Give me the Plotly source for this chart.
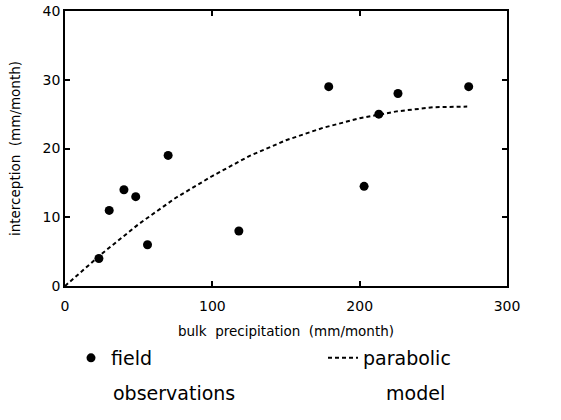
import plotly.graph_objects as go

# field observations (bulk precipitation, interception), mm/month
obs_x = [23, 30, 40, 48, 56, 70, 118, 179, 203, 213, 226, 274]
obs_y = [4, 11, 14, 13, 6, 19, 8, 29, 14.5, 25, 28, 29]

# parabolic model curve
model_x = [0, 25, 50, 75, 100, 125, 150, 175, 200, 225, 250, 273]
model_y = [0, 4.7, 9.0, 12.8, 16.0, 18.9, 21.2, 23.0, 24.4, 25.4, 26.0, 26.1]

x_ticks = [0, 100, 200, 300]
y_ticks = [0, 10, 20, 30, 40]

FONT = "DejaVu Sans"
W, H = 561, 420
# plot frame in page pixels: left 65, right 507, top 11, bottom 286
PL, PR, PT, PB = 65, 507, 11, 286
L, T, R, B = PL, PT, W - PR, H - PB
PW, PH = PR - PL, PB - PT


def px(xp):  # page pixel -> paper x
    return (xp - PL) / PW


def py(yp):  # page pixel -> paper y
    return (PB - yp) / PH


fig = go.Figure()
fig.add_trace(go.Scatter(
    x=obs_x, y=obs_y, mode="markers", name="field",
    marker=dict(color="black", size=9, symbol="circle"),
    legend="legend",
))
fig.add_trace(go.Scatter(
    x=model_x, y=model_y, mode="lines", name="parabolic",
    line=dict(color="black", width=2, dash="4px,3px"),
    legend="legend2",
))

axis_common = dict(
    showline=True, linecolor="black", linewidth=1.5, mirror="ticks",
    ticks="inside", ticklen=5, tickwidth=1.5, tickcolor="black",
    showgrid=False, zeroline=False, ticklabeloverflow="allow",
    tickfont=dict(family=FONT, size=14, color="black"),
)

fig.update_xaxes(
    range=[0, 300], tickvals=x_ticks, ticktext=[str(v) for v in x_ticks],
    ticklabelstandoff=6,
    title=dict(text="bulk  precipitation  (mm/month)",
               font=dict(family=FONT, size=13.5, color="black"), standoff=14),
    **axis_common,
)
fig.update_yaxes(
    range=[0, 40], tickvals=y_ticks, ticktext=[str(v) for v in y_ticks],
    title=dict(text="interception  (mm/month)",
               font=dict(family=FONT, size=13.5, color="black"), standoff=19),
    **axis_common,
)

leg_common = dict(
    orientation="h", xanchor="left", yanchor="top",
    font=dict(family=FONT, size=19, color="black"),
    bgcolor="rgba(0,0,0,0)", borderwidth=0,
)

fig.update_layout(
    width=W, height=H,
    margin=dict(l=L, r=R, t=T, b=B, autoexpand=False),
    plot_bgcolor="white", paper_bgcolor="white",
    font=dict(family=FONT, color="black"),
    showlegend=True,
    legend=dict(x=px(71), y=py(339), **leg_common),
    legend2=dict(x=px(323), y=py(339), **leg_common),
    annotations=[
        dict(text="observations", xref="paper", yref="paper",
             x=px(111), y=py(393), xanchor="left", yanchor="middle",
             showarrow=False, font=dict(family=FONT, size=19, color="black")),
        dict(text="model", xref="paper", yref="paper",
             x=px(415), y=py(393), xanchor="center", yanchor="middle",
             showarrow=False, font=dict(family=FONT, size=19, color="black")),
    ],
)

fig.write_html(
    "out.html",
    config={"displayModeBar": False},
    post_script="document.body.style.margin='0px';document.body.style.overflow='hidden';",
)
